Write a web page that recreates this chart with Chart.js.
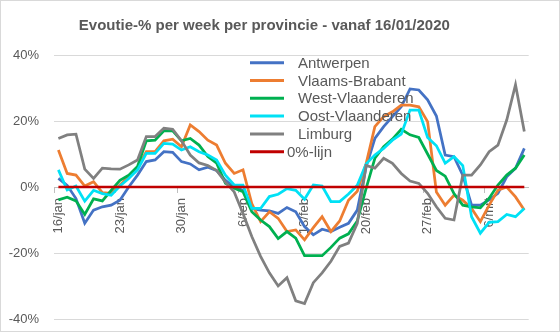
<!DOCTYPE html>
<html>
<head>
<meta charset="utf-8">
<script src="https://cdn.jsdelivr.net/npm/chart.js@4"></script>
<style>
  html, body { margin: 0; padding: 0; background: #fff; }
</style>
</head>
<body>
<canvas id="evolutieChart" width="560" height="332"></canvas>
<script>
const days = [
  '16/jan','17/jan','18/jan','19/jan','20/jan','21/jan','22/jan','23/jan','24/jan','25/jan',
  '26/jan','27/jan','28/jan','29/jan','30/jan','31/jan',
  '1/feb','2/feb','3/feb','4/feb','5/feb','6/feb','7/feb','8/feb','9/feb','10/feb',
  '11/feb','12/feb','13/feb','14/feb','15/feb','16/feb','17/feb','18/feb','19/feb','20/feb',
  '21/feb','22/feb','23/feb','24/feb','25/feb','26/feb','27/feb','28/feb',
  '1/mrt','2/mrt','3/mrt','4/mrt','5/mrt','6/mrt','7/mrt','8/mrt','9/mrt','10/mrt'
];
const weekLabels = ['16/jan','23/jan','30/jan','6/feb','13/feb','20/feb','27/feb','6/mrt'];

const antwerpen = [2.6, 0.5, -3.5, -11, -7, -6, -5.5, -4, 0, 3.6,
  7.7, 8.2, 10.7, 10.5, 7.7, 7, 5.2, 6, 5, 2,
  0, -1, -6.5, -7, -7.2, -8, -6.2, -7.5, -12, -14.5,
  -12.8, -13.5, -12.2, -11, -7, 6, 14.7, 18.3, 21.3, 24.3,
  29.7, 29.4, 26.4, 21.5, 9.7, 9.2, 3.6, -5.5, -5.5, -3.9,
  -1.9, 3.1, 5.7, 11.7];
const vlaamsBrabant = [11.2, 4.1, 3.6, 0.3, 1.6, -1.7, -1.9, 0.6, 3.1, 5.7,
  10.7, 10.7, 14, 14.5, 12.2, 18.8, 16.8, 14.2, 12.7, 7.2,
  4.1, 5.2, -5, -10.5, -7.5, -9.5, -13.5, -13, -16, -12.3,
  -9, -13.5, -10.3, -4, -1.3, 7, 18.3, 21.3, 22.8, 24.8,
  24.8, 24.3, 19.8, -1.5, -5.5, -2.5, -4, -6.5, -10.5, -5.5,
  -1, 0, -3, -7];
const westVlaanderen = [-3.9, -3.1, -4.2, -8.3, -3.6, -4.2, -1, 2, 3.6, 6.2,
  14, 14.2, 17, 17, 14, 14.7, 12.7, 9.2, 7.2, 1.1,
  -0.4, -1.4, -7.5, -10, -12, -15.6, -13.5, -15.5, -20.8, -20.8,
  -20.8, -18.3, -15.5, -14.2, -10.3, -0.5, 8.7, 12.2, 14.5, 17.5,
  15.8, 15, 10, 5, 3.3, -2, -5.5, -6, -6.3, -3.4,
  0.6, 3.6, 5.7, 9.7];
const oostVlaanderen = [5.2, -0.9, 0.3, -4.3, -1, -2, -2.5, 0.3, 2.6, 5.2,
  10.2, 10.2, 13.2, 13, 11.2, 12.2, 10.7, 9.7, 8.2, 3.6,
  0.6, 0.6, -6.5, -6.5, -2.9, -2.2, -0.5, -1, -3.7, 0.6,
  0.3, -4.4, -4.4, -2.1, 0.5, 7, 9.7, 11.7, 14.2, 16,
  23.3, 23.3, 15, 12.5, 7.2, 9.2, 6.5, -9, -14, -10.7,
  -10.5, -8.3, -9, -6.5];
const limburg = [14.7, 15.8, 16, 5.4, 2.6, 5.7, 5.5, 5.4, 6.7, 8.2,
  15.3, 15.3, 17.8, 17.5, 14, 9.7, 7.3, 6.5, 5, 1.5,
  -1.5, -8, -15, -21, -26, -30, -27.5, -34.5, -35.3, -29,
  -26, -22.5, -18, -17, -11, 6.5, 5.7, 8.7, 7.2, 4.1,
  1.8, 1.1, -1.9, -6, -9.5, -10, 3.6, 3.6, 6.7, 10.7,
  12.7, 20.3, 31, 16.8];
const nulLijn = days.map(() => 0);

const series = [
  { label: 'Antwerpen', data: antwerpen, color: '#4472C4' },
  { label: 'Vlaams-Brabant', data: vlaamsBrabant, color: '#ED7D31' },
  { label: 'West-Vlaanderen', data: westVlaanderen, color: '#00B050' },
  { label: 'Oost-Vlaanderen', data: oostVlaanderen, color: '#00E1F5' },
  { label: 'Limburg', data: limburg, color: '#808080' },
  { label: '0%-lijn', data: nulLijn, color: '#C00000' }
];

Chart.defaults.font.family = '"Liberation Sans", Arial, sans-serif';
Chart.defaults.color = '#595959';

// white background + thin grey frame like the Excel chart area
const frame = {
  id: 'frame',
  beforeDraw(chart) {
    const { ctx, width, height } = chart;
    ctx.save();
    ctx.fillStyle = '#fff';
    ctx.fillRect(0, 0, width, height);
    ctx.strokeStyle = '#D9D9D9';
    ctx.lineWidth = 1;
    ctx.strokeRect(0.5, 0.5, width - 1, height - 1);
    ctx.restore();
  }
};

// vertical legend inside the plot
const legendInPlot = {
  id: 'legendInPlot',
  afterDatasetsDraw(chart) {
    const ctx = chart.ctx;
    ctx.save();
    ctx.font = '15px "Liberation Sans", Arial, sans-serif';
    ctx.textBaseline = 'middle';
    ctx.fillStyle = '#595959';
    chart.data.datasets.forEach((ds, i) => {
      const y = 62.7 + i * 17.8;
      ctx.strokeStyle = ds.borderColor;
      ctx.lineWidth = 3;
      ctx.beginPath();
      ctx.moveTo(250, y);
      ctx.lineTo(284, y);
      ctx.stroke();
      ctx.fillText(ds.label, i === 5 ? 287 : 298, y + 1);
    });
    ctx.restore();
  }
};

// the axes should not push the plot area around
const noPadding = s => {
  s.paddingTop = 0;
  s.paddingBottom = 0;
  s.paddingLeft = 0;
  s.paddingRight = 0;
};

const ctx = document.getElementById('evolutieChart').getContext('2d');
const myChart = new Chart(ctx, {
  type: 'line',
  data: {
    labels: days,
    datasets: series.map((s, i) => ({
      label: s.label,
      data: s.data,
      borderColor: s.color,
      backgroundColor: s.color,
      borderWidth: i === 5 ? 2.5 : 2.75,
      pointRadius: 0,
      tension: 0,
      fill: false,
      order: series.length - i
    }))
  },
  options: {
    responsive: false,
    animation: false,
    devicePixelRatio: 1,
    layout: { padding: { left: 0, right: 31.3, top: 0, bottom: 13 } },
    plugins: {
      legend: { display: false },
      tooltip: { enabled: false },
      title: {
        display: true,
        text: 'Evoutie-% per week per provincie - vanaf 16/01/2020',
        color: '#595959',
        font: { size: 15, weight: 'bold', lineHeight: 1.2 },
        padding: { top: 17, bottom: 20 }
      }
    },
    scales: {
      x: {
        type: 'category',
        offset: true,
        position: { y: 0 },
        afterFit: noPadding,
        grid: {
          offset: true,
          drawOnChartArea: false,
          tickLength: 5,
          tickColor: c => weekLabels.includes(days[c.index]) ? '#BFBFBF' : 'rgba(0,0,0,0)'
        },
        border: { color: '#BFBFBF' },
        ticks: {
          autoSkip: false,
          maxRotation: 90,
          minRotation: 90,
          padding: 6,
          color: '#595959',
          font: { size: 13 },
          callback: function(v) {
            const l = this.getLabelForValue(v);
            return weekLabels.includes(l) ? l : '';
          }
        }
      },
      y: {
        min: -40,
        max: 40,
        ticks: {
          stepSize: 20,
          padding: 15,
          color: '#595959',
          font: { size: 13 },
          callback: v => v + '%'
        },
        grid: { color: '#D9D9D9', drawTicks: false },
        border: { display: false },
        afterFit: s => { noPadding(s); s.width = 54; }
      }
    }
  },
  plugins: [frame, legendInPlot]
});
</script>
</body>
</html>
